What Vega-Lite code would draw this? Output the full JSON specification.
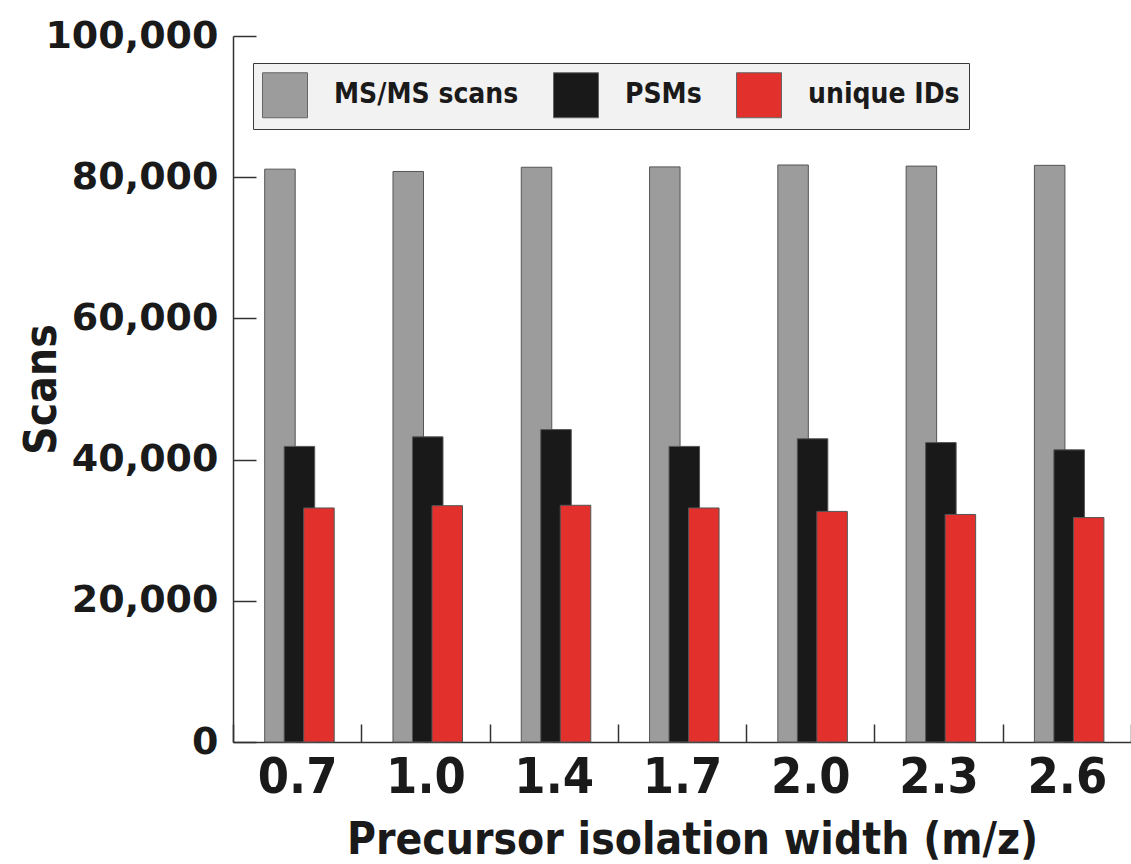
{
  "$schema": "https://vega.github.io/schema/vega-lite/v6.json",
  "autosize": {"type": "none"},
  "padding": {"left": 233, "top": 36, "right": 0, "bottom": 122},
  "width": 898,
  "height": 706,
  "background": "white",
  "data": {
    "values": [
      {"isolation": "0.7", "series": "MS/MS scans", "scans": 81140},
      {"isolation": "0.7", "series": "PSMs", "scans": 41870},
      {"isolation": "0.7", "series": "unique IDs", "scans": 33150},
      {"isolation": "1.0", "series": "MS/MS scans", "scans": 80810},
      {"isolation": "1.0", "series": "PSMs", "scans": 43220},
      {"isolation": "1.0", "series": "unique IDs", "scans": 33470},
      {"isolation": "1.4", "series": "MS/MS scans", "scans": 81410},
      {"isolation": "1.4", "series": "PSMs", "scans": 44250},
      {"isolation": "1.4", "series": "unique IDs", "scans": 33530},
      {"isolation": "1.7", "series": "MS/MS scans", "scans": 81460},
      {"isolation": "1.7", "series": "PSMs", "scans": 41870},
      {"isolation": "1.7", "series": "unique IDs", "scans": 33150},
      {"isolation": "2.0", "series": "MS/MS scans", "scans": 81730},
      {"isolation": "2.0", "series": "PSMs", "scans": 42950},
      {"isolation": "2.0", "series": "unique IDs", "scans": 32660},
      {"isolation": "2.3", "series": "MS/MS scans", "scans": 81570},
      {"isolation": "2.3", "series": "PSMs", "scans": 42410},
      {"isolation": "2.3", "series": "unique IDs", "scans": 32230},
      {"isolation": "2.6", "series": "MS/MS scans", "scans": 81680},
      {"isolation": "2.6", "series": "PSMs", "scans": 41380},
      {"isolation": "2.6", "series": "unique IDs", "scans": 31790}
    ]
  },
  "mark": {"type": "bar", "width": 30.5, "stroke": "#555555", "strokeWidth": 1},
  "encoding": {
    "x": {
      "field": "isolation",
      "type": "nominal",
      "sort": ["0.7", "1.0", "1.4", "1.7", "2.0", "2.3", "2.6"],
      "scale": {"paddingInner": 0, "paddingOuter": 0},
      "axis": {
        "title": "Precursor isolation width (m/z)",
        "labelAngle": 0,
        "tickBand": "extent",
        "tickSize": -18,
        "tickColor": "#333333",
        "tickWidth": 1.5,
        "domainColor": "#333333",
        "domainWidth": 1.5,
        "labelFont": "DejaVu Sans Condensed, Roboto, sans-serif",
        "labelFontWeight": "bold",
        "labelFontSize": 50,
        "labelColor": "#1a1a1a",
        "labelPadding": 28,
        "titleFont": "DejaVu Sans Condensed, Roboto, sans-serif",
        "titleFontWeight": "bold",
        "titleFontSize": 44,
        "titleColor": "#1a1a1a",
        "titleX": 459,
        "titleY": 111,
        "titleAlign": "center",
        "titleBaseline": "alphabetic"
      }
    },
    "xOffset": {
      "field": "series",
      "type": "nominal",
      "sort": ["MS/MS scans", "PSMs", "unique IDs"],
      "scale": {"paddingInner": 0, "paddingOuter": 0, "range": [37.2, 95.7]}
    },
    "y": {
      "field": "scans",
      "type": "quantitative",
      "stack": null,
      "scale": {"domain": [0, 100000], "nice": false},
      "axis": {
        "values": [0, 20000, 40000, 60000, 80000, 100000],
        "format": ",d",
        "grid": false,
        "tickSize": -23,
        "tickColor": "#333333",
        "tickWidth": 1.5,
        "domainColor": "#333333",
        "domainWidth": 1.5,
        "labelFont": "DejaVu Sans",
        "labelFontWeight": "bold",
        "labelFontSize": 38,
        "labelColor": "#1a1a1a",
        "labelPadding": 38,
        "title": "Scans",
        "titleFont": "DejaVu Sans Condensed, Roboto, sans-serif",
        "titleFontWeight": "bold",
        "titleFontSize": 44,
        "titleColor": "#1a1a1a",
        "titleAngle": -90,
        "titleX": -169,
        "titleY": 353,
        "titleAlign": "center",
        "titleBaseline": "bottom"
      }
    },
    "color": {
      "field": "series",
      "type": "nominal",
      "scale": {
        "domain": ["MS/MS scans", "PSMs", "unique IDs"],
        "range": ["#9b9c9b", "#191919", "#e2312d"]
      },
      "legend": {
        "title": null,
        "orient": "none",
        "legendX": 20,
        "legendY": 27,
        "direction": "horizontal",
        "symbolType": "square",
        "symbolSize": 2025,
        "symbolStrokeColor": "#666666",
        "symbolStrokeWidth": 1,
        "symbolOpacity": 1,
        "labelFont": "DejaVu Sans Condensed, Roboto, sans-serif",
        "labelFontWeight": "bold",
        "labelFontSize": 28,
        "labelColor": "#1a1a1a",
        "labelOffset": 26,
        "labelLimit": 400,
        "columnPadding": 32,
        "padding": 9,
        "fillColor": "#f2f2f2",
        "strokeColor": "#3a3a3a"
      }
    }
  },
  "config": {"view": {"stroke": null}}
}
